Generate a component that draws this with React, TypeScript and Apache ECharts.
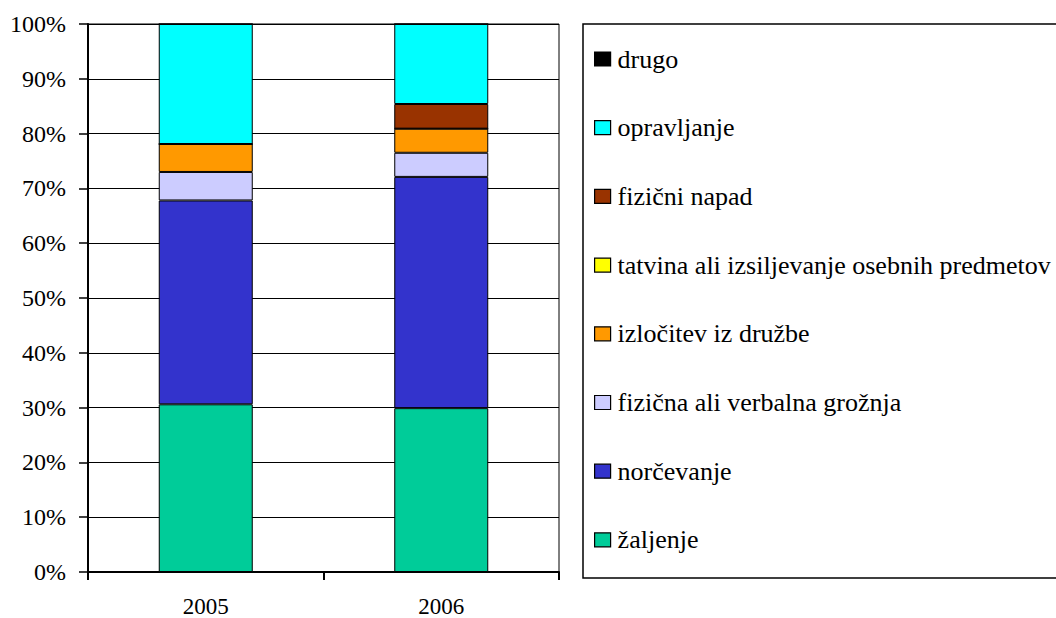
import React, { useEffect, useRef } from "react";
import * as echarts from "echarts";

const categories = ["2005", "2006"];
const seriesNames = [
  "žaljenje",
  "norčevanje",
  "fizična ali verbalna grožnja",
  "izločitev iz družbe",
  "tatvina ali izsiljevanje osebnih predmetov",
  "fizični napad",
  "opravljanje",
  "drugo",
];
const zaljenje = [30.6, 29.9];
const norcevanje = [37.2, 42.2];
const groznja = [5.2, 4.4];
const izlocitev = [5.1, 4.4];
const tatvina = [0, 0];
const fizicniNapad = [0, 4.5];
const opravljanje = [21.9, 14.6];
const drugo = [0, 0];
const seriesValues = [zaljenje, norcevanje, groznja, izlocitev, tatvina, fizicniNapad, opravljanje, drugo];
const colors = ["#00CC99", "#3333CC", "#CCCCFF", "#FF9900", "#FFFF00", "#993300", "#00FFFF", "#000000"];
const yTicks = [0, 10, 20, 30, 40, 50, 60, 70, 80, 90, 100];

const FONT = "Times New Roman, Liberation Serif, DejaVu Serif, serif";

export default function App() {
  const ref = useRef<HTMLDivElement>(null);
  useEffect(() => {
    if (!ref.current) return;
    const chart = echarts.init(ref.current, null, { renderer: "svg" });
    chart.setOption({
      animation: false,
      backgroundColor: "#ffffff",
      textStyle: { fontFamily: FONT },
      grid: {
        left: 88,
        right: 497,
        top: 24,
        bottom: 45,
        show: true,
        borderColor: "#000",
        borderWidth: 1,
      },
      xAxis: {
        type: "category",
        data: categories,
        axisLine: { show: true, lineStyle: { color: "#000", width: 2 } },
        axisTick: { show: true, length: 8, lineStyle: { color: "#000", width: 2 } },
        axisLabel: { color: "#000", fontFamily: FONT, fontSize: 23, margin: 23 },
      },
      yAxis: {
        type: "value",
        min: yTicks[0],
        max: yTicks[yTicks.length - 1],
        interval: 10,
        axisLine: { show: true, lineStyle: { color: "#000", width: 2 } },
        axisTick: { show: true, length: 9, lineStyle: { color: "#000", width: 1.5 } },
        axisLabel: {
          color: "#000",
          fontFamily: FONT,
          fontSize: 24,
          margin: 22,
          formatter: (v: number) => v + "%",
        },
        splitLine: { show: true, lineStyle: { color: "#000", width: 1 } },
      },
      legend: {
        orient: "vertical",
        left: 594,
        top: 46,
        padding: 0,
        icon: "rect",
        itemWidth: 16,
        itemHeight: 14,
        itemGap: 42.7,
        selectedMode: false,
        data: seriesNames.slice().reverse(),
        itemStyle: { borderColor: "#000", borderWidth: 1.2 },
        textStyle: { color: "#000", fontFamily: FONT, fontSize: 26, lineHeight: 26, padding: [0, 0, 0, 2] },
      },
      graphic: [
        {
          type: "rect",
          shape: { x: 583, y: 24, width: 500, height: 554 },
          style: { fill: "none", stroke: "#000", lineWidth: 1.5 },
          z: 0,
        },
      ],
      series: seriesNames.map((name, i) => ({
        name,
        type: "bar",
        stack: "total",
        barWidth: 94,
        data: seriesValues[i],
        itemStyle: { color: colors[i], borderColor: "#000", borderWidth: 1 },
      })),
    });
    return () => chart.dispose();
  }, []);
  return (
    <div
      ref={ref}
      style={{ position: "fixed", left: 0, top: 0, width: 1056, height: 618 }}
    />
  );
}
